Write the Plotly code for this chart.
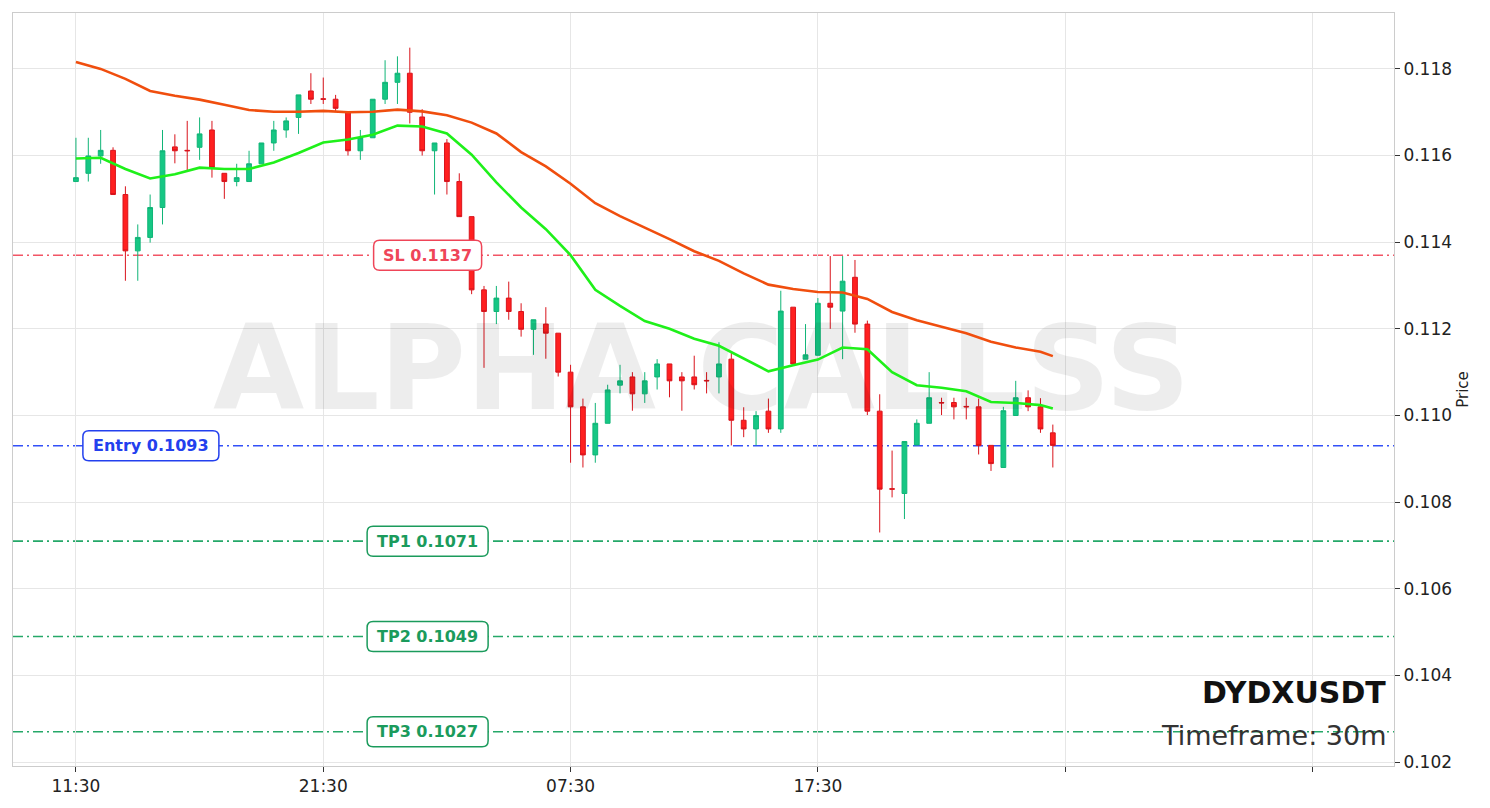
import plotly.graph_objects as go

# 30m candles, DYDXUSDT
opens = [0.11540, 0.11559, 0.11599, 0.11612, 0.11510, 0.11380, 0.11411, 0.11480, 0.11620, 0.11612,
         0.11619, 0.11659, 0.11559, 0.11540, 0.11540, 0.11581, 0.11629, 0.11659, 0.11688, 0.11749,
         0.11731, 0.11730, 0.11700, 0.11611, 0.11641, 0.11730, 0.11769, 0.11790, 0.11689, 0.11611,
         0.11629, 0.11540, 0.11459, 0.11290, 0.11240, 0.11271, 0.11240, 0.11199, 0.11211, 0.11190,
         0.11100, 0.11020, 0.10909, 0.10982, 0.11070, 0.11089, 0.11050, 0.11089, 0.11119, 0.11089,
         0.11089, 0.11081, 0.11089, 0.11130, 0.10989, 0.10969, 0.11010, 0.10969, 0.11250, 0.11130,
         0.11139, 0.11259, 0.11241, 0.11319, 0.11211, 0.11010, 0.10831, 0.10820, 0.10932, 0.10982,
         0.11030, 0.11030, 0.11021, 0.11020, 0.10931, 0.10880, 0.11000, 0.11041, 0.11020, 0.10960]
highs = [0.11641, 0.11641, 0.11659, 0.11619, 0.11529, 0.11441, 0.11510, 0.11659, 0.11649, 0.11680,
         0.11688, 0.11680, 0.11559, 0.11581, 0.11611, 0.11629, 0.11680, 0.11688, 0.11740, 0.11790,
         0.11780, 0.11740, 0.11700, 0.11659, 0.11730, 0.11820, 0.11829, 0.11849, 0.11707, 0.11629,
         0.11638, 0.11559, 0.11459, 0.11299, 0.11299, 0.11309, 0.11259, 0.11221, 0.11250, 0.11190,
         0.11117, 0.11039, 0.11029, 0.11071, 0.11117, 0.11100, 0.11100, 0.11130, 0.11119, 0.11100,
         0.11138, 0.11100, 0.11169, 0.11148, 0.11019, 0.11010, 0.11039, 0.11288, 0.11250, 0.11211,
         0.11271, 0.11368, 0.11368, 0.11359, 0.11219, 0.11049, 0.10919, 0.10940, 0.10991, 0.11100,
         0.11041, 0.11041, 0.11041, 0.11039, 0.10931, 0.11020, 0.11080, 0.11058, 0.11040, 0.10979]
lows = [0.11540, 0.11540, 0.11581, 0.11510, 0.11311, 0.11311, 0.11399, 0.11441, 0.11582, 0.11564,
        0.11590, 0.11549, 0.11500, 0.11529, 0.11540, 0.11581, 0.11611, 0.11641, 0.11650, 0.11719,
        0.11719, 0.11703, 0.11600, 0.11590, 0.11641, 0.11719, 0.11719, 0.11674, 0.11600, 0.11510,
        0.11510, 0.11459, 0.11280, 0.11110, 0.11211, 0.11221, 0.11182, 0.11140, 0.11131, 0.11090,
        0.10891, 0.10880, 0.10891, 0.10982, 0.11051, 0.11011, 0.11029, 0.11060, 0.11042, 0.11011,
        0.11060, 0.11051, 0.11051, 0.10931, 0.10950, 0.10931, 0.10960, 0.10960, 0.11119, 0.11130,
        0.11139, 0.11200, 0.11130, 0.11191, 0.11001, 0.10730, 0.10811, 0.10761, 0.10932, 0.10982,
        0.11001, 0.10991, 0.10991, 0.10910, 0.10872, 0.10880, 0.11000, 0.11010, 0.10960, 0.10880]
closes = [0.11549, 0.11599, 0.11612, 0.11510, 0.11380, 0.11411, 0.11480, 0.11611, 0.11611, 0.11611,
          0.11650, 0.11572, 0.11540, 0.11549, 0.11581, 0.11629, 0.11659, 0.11680, 0.11740, 0.11730,
          0.11730, 0.11709, 0.11611, 0.11641, 0.11730, 0.11769, 0.11790, 0.11700, 0.11611, 0.11629,
          0.11540, 0.11459, 0.11290, 0.11240, 0.11271, 0.11240, 0.11199, 0.11221, 0.11190, 0.11100,
          0.11020, 0.10909, 0.10982, 0.11059, 0.11080, 0.11050, 0.11080, 0.11119, 0.11080, 0.11080,
          0.11071, 0.11080, 0.11119, 0.10989, 0.10969, 0.11000, 0.10969, 0.11241, 0.11119, 0.11140,
          0.11259, 0.11250, 0.11310, 0.11211, 0.11010, 0.10830, 0.10830, 0.10940, 0.10982, 0.11041,
          0.11029, 0.11020, 0.11020, 0.10931, 0.10889, 0.11011, 0.11041, 0.11020, 0.10969, 0.10931]

# moving averages (every second candle + last)
ma_idx = [0, 2, 4, 6, 8, 10, 12, 14, 16, 18, 20, 22, 24, 26, 28, 30, 32, 34, 36, 38,
          40, 42, 44, 46, 48, 50, 52, 54, 56, 58, 60, 62, 64, 66, 68, 70, 72, 74, 76, 78, 79]
ma_slow = [0.11816, 0.11800, 0.11777, 0.11749, 0.11738, 0.11729, 0.11717, 0.11705, 0.11701, 0.11701,
           0.11703, 0.11700, 0.11701, 0.11706, 0.11702, 0.11693, 0.11676, 0.11651, 0.11608, 0.11575,
           0.11535, 0.11490, 0.11460, 0.11434, 0.11407, 0.11379, 0.11357, 0.11328, 0.11302, 0.11292,
           0.11285, 0.11284, 0.11269, 0.11239, 0.11220, 0.11205, 0.11190, 0.11170, 0.11157, 0.11147,
           0.11137]
ma_fast = [0.11593, 0.11595, 0.11569, 0.11547, 0.11557, 0.11572, 0.11569, 0.11569, 0.11584, 0.11606,
           0.11630, 0.11637, 0.11648, 0.11669, 0.11667, 0.11651, 0.11602, 0.11538, 0.11480, 0.11430,
           0.11370, 0.11290, 0.11253, 0.11218, 0.11200, 0.11177, 0.11161, 0.11131, 0.11102, 0.11116,
           0.11129, 0.11157, 0.11153, 0.11100, 0.11070, 0.11064, 0.11056, 0.11031, 0.11029, 0.11024,
           0.11016]

tick_idx = [0, 20, 40, 60, 80, 100]
tick_text = ["11:30", "21:30", "07:30", "17:30", "", ""]

level_names = ["SL", "Entry", "TP1", "TP2", "TP3"]
level_prices = [0.1137, 0.1093, 0.1071, 0.1049, 0.1027]

line_colors = ["#f25565", "#3350f8", "#25a868", "#25a868", "#25a868"]
text_colors = ["#ef4558", "#2340ee", "#1b9b5c", "#1b9b5c", "#1b9b5c"]
label_x = [28.44, 6.06, 28.44, 28.44, 28.44]
label_w = [108, 136, 121, 121, 121]


def round_box(w, h, r):
    x0, x1, y0, y1 = -w / 2, w / 2, -h / 2, h / 2
    return (f"M {x0 + r},{y0} L {x1 - r},{y0} Q {x1},{y0} {x1},{y0 + r} "
            f"L {x1},{y1 - r} Q {x1},{y1} {x1 - r},{y1} L {x0 + r},{y1} "
            f"Q {x0},{y1} {x0},{y1 - r} L {x0},{y0 + r} Q {x0},{y0} {x0 + r},{y0} Z")


x = list(range(len(opens)))

fig = go.Figure()

# faint watermark, drawn under the candles
fig.add_trace(go.Scatter(
    x=[50.6], y=[0.11082], mode="text", text=["ALPHA CALLSS"],
    textfont=dict(family="DejaVu Sans", size=118, color="rgba(0,0,0,0.07)", weight="bold"),
    hoverinfo="skip", showlegend=False))

fig.add_trace(go.Candlestick(
    x=x, open=opens, high=highs, low=lows, close=closes,
    increasing=dict(line=dict(color="#10b577", width=1), fillcolor="#16c784"),
    decreasing=dict(line=dict(color="#d9141c", width=1), fillcolor="#ff2020"),
    whiskerwidth=0, showlegend=False, name="DYDXUSDT"))

fig.add_trace(go.Scatter(x=ma_idx, y=ma_slow, mode="lines",
                         line=dict(color="#f04e0e", width=2.6), showlegend=False))
fig.add_trace(go.Scatter(x=ma_idx, y=ma_fast, mode="lines",
                         line=dict(color="#1ff01a", width=2.6), showlegend=False))

for name, price, lc, tc, lx, lw in zip(level_names, level_prices, line_colors,
                                       text_colors, label_x, label_w):
    fig.add_shape(type="line", xref="x domain", yref="y", x0=0, x1=1, y0=price, y1=price,
                  line=dict(color=lc, width=1.6, dash="10px,4px,2px,4px"), layer="below")
    fig.add_shape(type="path", xref="x", yref="y", xsizemode="pixel", ysizemode="pixel",
                  xanchor=lx, yanchor=price, path=round_box(lw, 30, 6),
                  fillcolor="white", line=dict(color=tc, width=1.5), layer="above")
    fig.add_annotation(x=lx, y=price, text=f"<b>{name} {price:.4f}</b>", showarrow=False,
                       font=dict(family="DejaVu Sans", size=16, color=tc))

fig.add_annotation(xref="paper", yref="paper", x=0.9957, y=0.098,
                   xanchor="right", yanchor="middle",
                   text="<b>DYDXUSDT</b>", showarrow=False,
                   font=dict(family="DejaVu Sans", size=30, color="#111111"))
fig.add_annotation(xref="paper", yref="paper", x=0.9957, y=0.041,
                   xanchor="right", yanchor="middle",
                   text="Timeframe: 30m", showarrow=False,
                   font=dict(family="DejaVu Sans", size=27, color="#333333"))

fig.update_layout(
    width=1490, height=808,
    margin=dict(l=12, r=96, t=12, b=40),
    paper_bgcolor="white", plot_bgcolor="white",
    boxgap=0.45,
    font=dict(family="DejaVu Sans", size=17, color="#222222"),
    xaxis=dict(range=[-5.09, 106.59], tickvals=tick_idx, ticktext=tick_text,
               showgrid=True, gridcolor="#e6e6e6", gridwidth=1, zeroline=False,
               showline=True, linecolor="#cccccc", mirror=True,
               ticks="outside", ticklen=5, tickcolor="#333333",
               rangeslider=dict(visible=False)),
    yaxis=dict(range=[0.10191, 0.11929], side="right", dtick=0.002, tick0=0.102,
               tickformat=".3f", showgrid=True, gridcolor="#e6e6e6", zeroline=False,
               showline=True, linecolor="#cccccc", mirror=True,
               ticks="outside", ticklen=5, tickcolor="#333333",
               title=dict(text="Price", font=dict(size=15), standoff=6)),
)

fig.write_html("out.html", config={"displayModeBar": False},
               post_script="document.body.style.margin='0';")
